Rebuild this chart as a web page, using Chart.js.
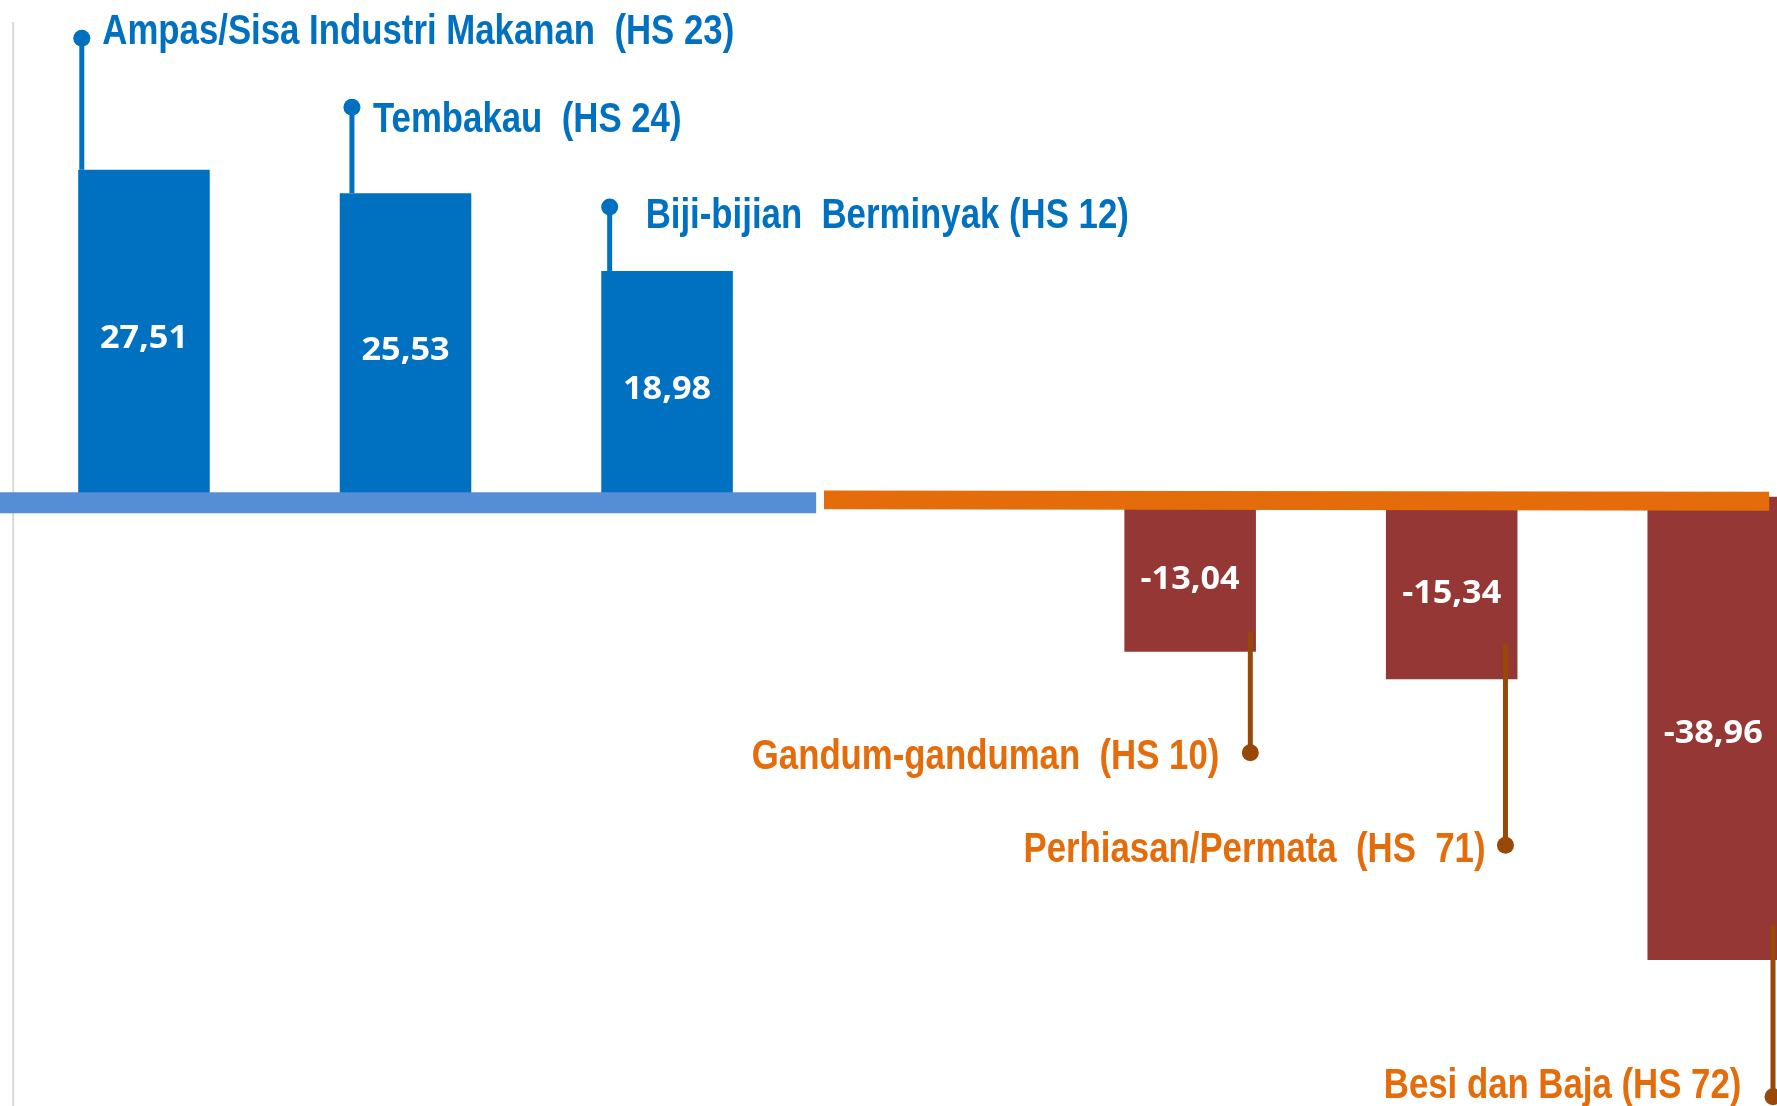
<!DOCTYPE html>
<html>
<head>
<meta charset="utf-8">
<script src="https://cdn.jsdelivr.net/npm/chart.js@4.4.1/dist/chart.umd.min.js"></script>
<style>
  html, body { margin: 0; padding: 0; background: #fff; overflow: hidden; }
  #wrap { width: 1777px; height: 1106px; overflow: hidden; }
  canvas { display: block; }
</style>
</head>
<body>
<div id="wrap"><canvas id="chart" width="1844" height="1106"></canvas></div>
<script>
// categories (slot 4 is an empty gap between the two groups)
const categories = [
  'Ampas/Sisa Industri Makanan  (HS 23)',
  'Tembakau  (HS 24)',
  'Biji-bijian  Berminyak (HS 12)',
  '',
  'Gandum-ganduman  (HS 10)',
  'Perhiasan/Permata  (HS  71)',
  'Besi dan Baja (HS 72)'
];
const values = [27.51, 25.53, 18.98, null, -13.04, -15.34, -38.96];
const yMin = -51.24;
const yMax = 41.78;

// hand placed callouts: leader offset from bar edge, dot offset from bar end, text offset from dot
const callouts = [
  { dx: 3.6, dy: 131.5, tx: 20.5, ty: 5.5 },
  { dx: 12.2, dy: 86, tx: 21, ty: 25 },
  { dx: 8.4, dy: 64, tx: 36, ty: 21 },
  null,
  { dx: 5.6, start: 20, dy: 101, tx: 31, ty: 16 },
  { dx: 12, start: 35, dy: 166, tx: 20, ty: 16.5 },
  { dx: 6, start: 35, dy: 136.7, tx: 31.7, ty: 1.5 }
];

const UP = '#0070C0', DOWN = '#953735';

const fmt = v => v.toFixed(2).replace('.', ',');

const decor = {
  id: 'decor',
  beforeDatasetsDraw(chart) {
    const { ctx, chartArea } = chart;
    ctx.save();
    ctx.strokeStyle = '#d9d9d9';
    ctx.lineWidth = 2;
    ctx.beginPath();
    ctx.moveTo(chartArea.left, 22);
    ctx.lineTo(chartArea.left, chartArea.bottom);
    ctx.stroke();
    ctx.restore();
  },
  afterDatasetsDraw(chart) {
    const { ctx, scales: { x, y } } = chart;
    const zero = y.getPixelForValue(0);
    const slot = x.getPixelForValue(1) - x.getPixelForValue(0);
    const gap = x.getPixelForValue(3);
    ctx.save();

    // the two thick baseline bands
    ctx.fillStyle = '#558ED5';
    ctx.fillRect(0, zero - 4.5, gap - 0.43 * slot, 21);
    const ox0 = gap - 0.40 * slot, ox1 = x.getPixelForValue(6) + 0.214 * slot;
    ctx.fillStyle = '#E46C0A';
    ctx.beginPath();
    ctx.moveTo(ox0, zero - 6.3);
    ctx.lineTo(ox1, zero - 5.1);
    ctx.lineTo(ox1, zero + 13.9);
    ctx.lineTo(ox0, zero + 12.5);
    ctx.closePath();
    ctx.fill();

    const meta = chart.getDatasetMeta(0);
    meta.data.forEach((bar, i) => {
      const v = values[i];
      if (v === null) return;
      const p = bar.getProps(['x', 'y', 'base', 'width'], true);
      const c = callouts[i];

      // value inside the bar
      ctx.save();
      ctx.fillStyle = '#fff';
      ctx.font = 'bold 32px "Open Sans", sans-serif';
      ctx.textAlign = 'center';
      ctx.textBaseline = 'alphabetic';
      ctx.translate(p.x, (p.y + p.base) / 2 + 14.9);
      ctx.scale(1.07, 1);
      ctx.fillText(fmt(v), 0, 0);
      ctx.restore();

      // leader line + dot + name
      ctx.lineWidth = 5;
      let lx, dotY, y0, y1;
      if (v > 0) {
        lx = p.x - p.width / 2 + c.dx;
        dotY = p.y - c.dy;
        y0 = dotY; y1 = p.y;
        ctx.strokeStyle = ctx.fillStyle = UP;
      } else {
        lx = p.x + p.width / 2 - c.dx;
        dotY = p.y + c.dy;
        y0 = p.y - c.start; y1 = dotY;
        ctx.strokeStyle = ctx.fillStyle = '#984807';
      }
      ctx.beginPath();
      ctx.moveTo(lx, y0);
      ctx.lineTo(lx, y1);
      ctx.stroke();
      ctx.beginPath();
      ctx.arc(lx, dotY, 8.5, 0, Math.PI * 2);
      ctx.fill();

      ctx.save();
      ctx.font = 'bold 42px "Liberation Sans", Arial, sans-serif';
      if (v > 0) {
        ctx.fillStyle = UP;
        ctx.translate(lx + c.tx, dotY + c.ty);
        ctx.textAlign = 'left';
      } else {
        ctx.fillStyle = '#E46C0A';
        ctx.translate(lx - c.tx, dotY + c.ty);
        ctx.textAlign = 'right';
      }
      ctx.scale(0.828, 1);
      ctx.fillText(categories[i], 0, 0);
      ctx.restore();
    });
    ctx.restore();
  }
};

const ctx = document.getElementById('chart').getContext('2d');
new Chart(ctx, {
  type: 'bar',
  data: {
    labels: categories,
    datasets: [{
      data: values,
      backgroundColor: values.map(v => v > 0 ? UP : DOWN),
      borderWidth: 0,
      categoryPercentage: 1,
      barPercentage: 0.503
    }]
  },
  options: {
    responsive: false,
    animation: false,
    devicePixelRatio: 1,
    layout: { padding: { left: 13.2, right: 0, top: 0, bottom: 0 } },
    plugins: { legend: { display: false }, tooltip: { enabled: false } },
    scales: {
      x: { display: false },
      y: { display: false, min: yMin, max: yMax }
    }
  },
  plugins: [decor]
});
</script>
</body>
</html>
